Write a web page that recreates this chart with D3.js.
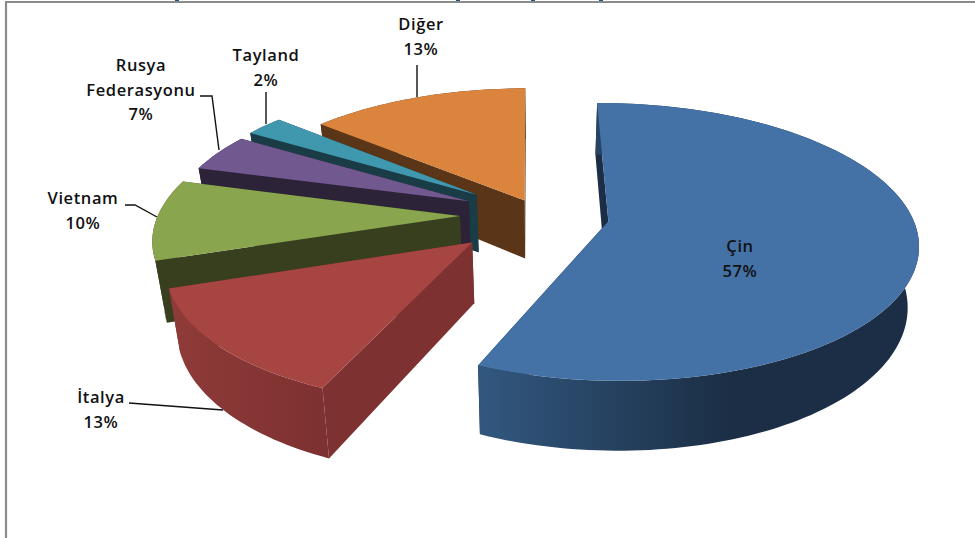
<!DOCTYPE html>
<html>
<head>
<meta charset="utf-8">
<script src="https://cdn.jsdelivr.net/npm/d3@7"></script>
<style>
  html, body { margin: 0; padding: 0; background: #fff; }
  text { font-family: "Open Sans", Lato, sans-serif; font-size: 16.5px; font-weight: 600; letter-spacing: 0.6px; fill: #111; }
</style>
</head>
<body>
<script>
var categories = ["Çin", "İtalya", "Vietnam", "Rusya Federasyonu", "Tayland", "Diğer"];
var shares = [56.5, 13.4, 9.5, 6.5, 1.6, 12.5];
var topColors = ["#4471a6", "#a64542", "#89a54e", "#71588f", "#4098af", "#db843d"];
var sideColors = ["#1b2e45", "#7d3130", "#373f1f", "#2c2339", "#193c46", "#5a3517"];
var wallLight = ["#32587f", "#8f3b39", "#373f1f", "#2c2339", "#193c46", "#5a3517"];

// per slice look of the 3d pie: pull out, rim radius, and a nudge (degrees) of the
// slice's closing edge, the perspective of the original squeezes the far left slices
var explode = [0.225, 0.29, 0.26, 0.256, 0.26, 0.12];
var rimScale = [0.985, 0.95, 0.98, 0.97, 0.97, 0.975];
var edgeNudge = [0.6, 0.2, 0.2, -7, -4, 0.2];

// label anchors and leader lines, in page pixels
var labelRows = [["Çin"], ["İtalya"], ["Vietnam"], ["Rusya", "Federasyonu"], ["Tayland"], ["Diğer"]];
var labelAt = [[740, 252], [101, 403], [83, 204], [141, 71], [266, 61], [421, 30]];
var leaders = [null,
    [[129, 403], [223, 410]],
    [[125, 205], [135, 205], [157, 217]],
    [[200, 96], [212, 96], [219, 150]],
    [[266, 92], [266, 124]],
    [[417, 65], [417, 97]]];
var titleStubs = [177, 458, 533, 601];

var width = 975, height = 538;
var cx = 540, cy = 215, fx = 308, fy = 136, depth = 59, squeeze = 0.03, persp = 0.151;

var svg = d3.select("body").append("svg")
    .attr("width", width)
    .attr("height", height)
    .style("display", "block");

var defs = svg.append("defs");

// bottoms of the cut off title
svg.selectAll(".stub")
    .data(titleStubs)
    .enter()
    .append("rect")
    .attr("class", "stub")
    .attr("x", function(d) { return d - 2; })
    .attr("y", 0)
    .attr("width", 4)
    .attr("height", 1.5)
    .attr("fill", "#1f4e86");

// frame
svg.append("path")
    .attr("d", "M6,538V2H975")
    .attr("fill", "none")
    .attr("stroke", "#8c8c8c")
    .attr("stroke-width", 2.2);

var rad = Math.PI / 180;
var pie = d3.pie().sort(null).value(function(d) { return d; })
    .startAngle(-0.5 * rad)
    .endAngle(359.5 * rad);

// z = 0 on top face, 1 on the bottom face
function project(u, v, z) {
    var D = 1 + persp * v;
    return [cx + fx * u / D * (1 - squeeze * z), cy + (-fy * v + depth * z) / D];
}

var line = d3.line();

function rimPoints(a0, a1, ox, oy, r, z) {
    var n = Math.max(4, Math.round((a1 - a0) * 40)), pts = [];
    for (var i = 0; i <= n; i++) {
        var t = a0 + (a1 - a0) * i / n;
        pts.push(project(ox + r * Math.sin(t), oy + r * Math.cos(t), z));
    }
    return pts;
}

var arcs = pie(shares);
arcs.forEach(function(a, i) {
    a.endAngle += edgeNudge[i] * rad;
    if (i > 0) a.startAngle = arcs[i - 1].endAngle;
});

// back to front, Çin last
d3.range(arcs.length - 1, -1, -1).forEach(function(i) {
    var a = arcs[i], mid = (a.startAngle + a.endAngle) / 2;
    var ox = explode[i] * Math.sin(mid), oy = explode[i] * Math.cos(mid);
    var g = svg.append("g").attr("class", "slice");

    var top = rimPoints(a.startAngle, a.endAngle, ox, oy, rimScale[i], 0);
    var bottom = rimPoints(a.startAngle, a.endAngle, ox, oy, rimScale[i], 1);
    var apexTop = project(ox, oy, 0), apexBottom = project(ox, oy, 1);

    // cut faces
    [[top[0], bottom[0]], [top[top.length - 1], bottom[bottom.length - 1]]].forEach(function(e) {
        g.append("path")
            .attr("d", line([apexTop, e[0], e[1], apexBottom]) + "Z")
            .attr("fill", sideColors[i]);
    });

    // outer wall
    var grad = defs.append("linearGradient")
        .attr("id", "wall" + i)
        .attr("gradientUnits", "userSpaceOnUse")
        .attr("x1", d3.min(top, function(p) { return p[0]; }))
        .attr("x2", i == 0 ? 730 : d3.max(top, function(p) { return p[0]; }))
        .attr("y1", 0).attr("y2", 0);
    grad.append("stop").attr("offset", 0).attr("stop-color", wallLight[i]);
    grad.append("stop").attr("offset", 1).attr("stop-color", sideColors[i]);

    g.append("path")
        .attr("d", line(top.concat(bottom.slice().reverse())) + "Z")
        .attr("fill", "url(#wall" + i + ")");

    // top face
    g.append("path")
        .attr("d", line([apexTop].concat(top)) + "Z")
        .attr("fill", topColors[i]);
});

leaders.forEach(function(l) {
    if (!l) return;
    svg.append("path")
        .attr("d", line(l))
        .attr("fill", "none")
        .attr("stroke", "#111")
        .attr("stroke-width", 1.4);
});

labelRows.forEach(function(rows, i) {
    var t = svg.append("text")
        .attr("class", "label")
        .attr("text-anchor", "middle")
        .attr("x", labelAt[i][0])
        .attr("y", labelAt[i][1]);
    rows.concat(Math.round(shares[i]) + "%").forEach(function(r, j) {
        t.append("tspan")
            .attr("x", labelAt[i][0])
            .attr("dy", j ? 24.7 : 0)
            .text(r);
    });
});
</script>
</body>
</html>
